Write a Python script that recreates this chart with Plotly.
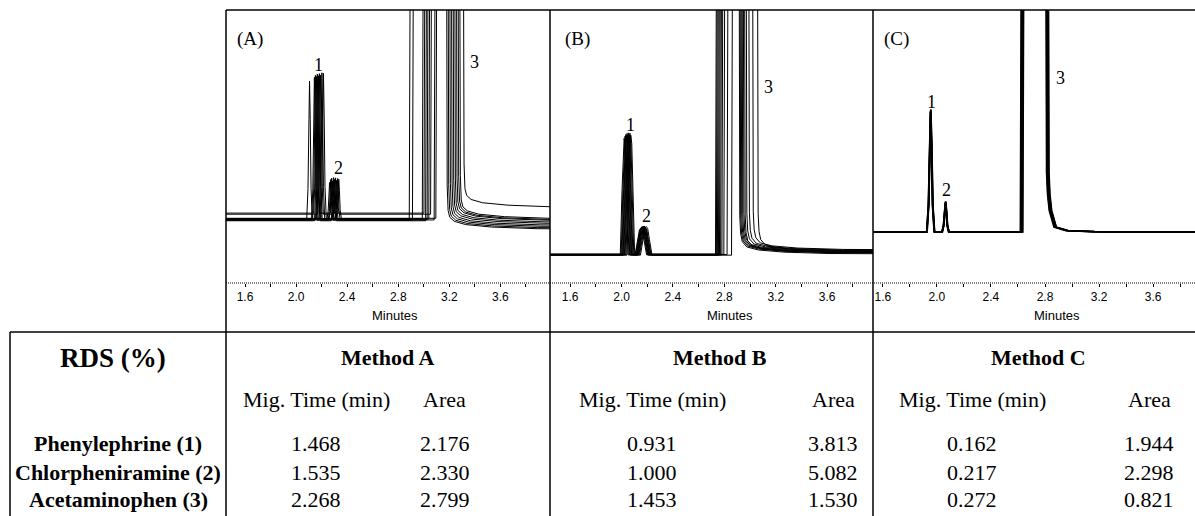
import plotly.graph_objects as go

W, H = 1195, 516

# ---------------- Chromatogram data (relative absorbance, 0-100 = axis height) ----------------
# Method A : ten overlaid runs
A_P1_TIME = [2.105, 2.143, 2.151, 2.159, 2.166, 2.174, 2.182, 2.191, 2.202, 2.214]
A_P1_SIGNAL = [74.0, 75.3, 76.1, 75.6, 76.5, 75.9, 76.7, 76.2, 77.0, 76.8]
A_P2_TIME = [2.262, 2.271, 2.279, 2.287, 2.294, 2.301, 2.309, 2.317, 2.325, 2.334]
A_P2_SIGNAL = [36.8, 37.9, 38.4, 37.4, 38.6, 37.9, 38.5, 37.6, 38.3, 38.0]
A_P3_START = [2.890, 2.915, 2.992, 3.005, 3.018, 3.030, 3.043, 3.057, 3.085, 3.098]
A_P3_END = [3.178, 3.190, 3.203, 3.216, 3.229, 3.242, 3.255, 3.268, 3.281, 3.310]
A_BASE_PRE = [23.4, 23.0, 23.6, 25.6, 22.8, 23.2, 23.5, 25.2, 23.1, 23.7]
A_BASE_POST = [19.6, 20.0, 20.5, 21.0, 21.6, 22.1, 22.7, 23.0, 23.4, 27.6]

# Method B : ten overlaid runs
B_P1_TIME = [2.020, 2.027, 2.033, 2.038, 2.043, 2.048, 2.053, 2.058, 2.065, 2.072]
B_P1_SIGNAL = [53.0, 53.8, 54.4, 54.0, 54.8, 54.2, 55.0, 54.5, 54.9, 54.1]
B_P2_TIME = [2.150, 2.155, 2.160, 2.163, 2.167, 2.171, 2.175, 2.180, 2.185, 2.192]
B_P2_SIGNAL = [20.0, 20.4, 20.7, 20.3, 20.8, 20.5, 20.9, 20.6, 20.2, 20.7]
B_P3_START = [2.735, 2.742, 2.750, 2.758, 2.766, 2.775, 2.785, 2.800, 2.825, 2.860]
B_P3_END = [2.915, 2.922, 2.930, 2.938, 2.947, 2.957, 2.970, 2.990, 3.020, 3.058]
B_BASE_PRE = [10.3, 10.5, 10.4, 10.2, 10.6, 10.4, 10.3, 10.5, 10.4, 10.2]
B_BASE_POST = [10.6, 10.9, 11.1, 11.3, 11.5, 11.0, 11.7, 11.9, 12.1, 11.4]

# Method C : eight tightly overlaid runs
C_P1_TIME = [1.950, 1.951, 1.952, 1.953, 1.954, 1.955, 1.956, 1.957]
C_P1_SIGNAL = [62.6, 63.0, 63.4, 63.2, 63.6, 62.9, 63.3, 63.5]
C_P2_TIME = [2.060, 2.061, 2.062, 2.063, 2.064, 2.065, 2.066, 2.067]
C_P2_SIGNAL = [29.2, 29.5, 29.8, 29.6, 29.9, 29.4, 29.7, 29.8]
C_P3_START = [2.620, 2.623, 2.626, 2.629, 2.632, 2.635, 2.638, 2.641]
C_P3_END = [2.805, 2.808, 2.811, 2.814, 2.817, 2.820, 2.823, 2.826]
C_BASE_PRE = [18.6, 18.7, 18.8, 18.7, 18.6, 18.8, 18.7, 18.6]
C_BASE_POST = [18.5, 18.6, 18.7, 18.6, 18.5, 18.7, 18.6, 18.5]

# Peak outline (offsets in half-widths) and fraction of peak height
PEAK_DT = [-1.0, -0.55, -0.25, 0.0, 0.25, 0.55, 1.0]
SPIKE_FRAC = [0.0, 0.22, 0.72, 1.0, 0.72, 0.22, 0.0]
BOX_FRAC = [0.0, 0.55, 0.93, 1.0, 0.93, 0.55, 0.0]
# Tail of the off-scale acetaminophen peak (min after falling edge, excess signal)
TAIL_DT = [0.0, 0.005, 0.012, 0.025, 0.06, 0.15, 0.35, 0.7]
A_TAIL = [130, 16, 7.0, 4.5, 3.0, 1.8, 0.9, 0.3]
B_TAIL = [130, 14, 7.4, 4.5, 2.6, 1.5, 0.7, 0.2]
C_TAIL = [130, 22, 14, 8.0, 1.9, 0.6, 0.2, 0.0]
OFFSCALE = 130.0

TICK_VALUES = [1.6, 1.8, 2.0, 2.2, 2.4, 2.6, 2.8, 3.0, 3.2, 3.4, 3.6, 3.8]
TICK_TEXT = ["1.6", "", "2.0", "", "2.4", "", "2.8", "", "3.2", "", "3.6", ""]

# ---------------- Table data (RSD %) ----------------
COMPOUNDS = ["Phenylephrine (1)", "Chlorpheniramine (2)", "Acetaminophen (3)"]
METHODS = ["Method A", "Method B", "Method C"]
A_MIG_RSD = [1.468, 1.535, 2.268]
A_AREA_RSD = [2.176, 2.330, 2.799]
B_MIG_RSD = [0.931, 1.000, 1.453]
B_AREA_RSD = [3.813, 5.082, 1.530]
C_MIG_RSD = [0.162, 0.217, 0.272]
C_AREA_RSD = [1.944, 2.298, 0.821]


def px(x):
    return x / W


def py(y):
    return 1 - y / H


def build_run(pre, post, p1t, p1s, hw1, f1, p2t, p2s, hw2, f2, s3, e3, tail):
    xs, ys = [1.2], [pre]
    for t, apex, hw, frac in ((p1t, p1s, hw1, f1), (p2t, p2s, hw2, f2)):
        for d, f in zip(PEAK_DT, frac):
            xs.append(t + d * hw)
            ys.append(pre + f * (apex - pre))
    xs += [s3 - 0.004, s3 + 0.004, e3]
    ys += [pre, OFFSCALE, OFFSCALE]
    for d, e in zip(TAIL_DT[1:], tail[1:]):
        xs.append(e3 + d)
        ys.append(post + e)
    xs.append(4.6)
    ys.append(post)
    return xs, ys


fig = go.Figure()

panels = [
    ("x", "y", A_BASE_PRE, A_BASE_POST, A_P1_TIME, A_P1_SIGNAL, 0.022, SPIKE_FRAC,
     A_P2_TIME, A_P2_SIGNAL, 0.020, SPIKE_FRAC, A_P3_START, A_P3_END, A_TAIL, 1.0),
    ("x2", "y2", B_BASE_PRE, B_BASE_POST, B_P1_TIME, B_P1_SIGNAL, 0.030, BOX_FRAC,
     B_P2_TIME, B_P2_SIGNAL, 0.045, BOX_FRAC, B_P3_START, B_P3_END, B_TAIL, 1.0),
    ("x3", "y3", C_BASE_PRE, C_BASE_POST, C_P1_TIME, C_P1_SIGNAL, 0.028, SPIKE_FRAC,
     C_P2_TIME, C_P2_SIGNAL, 0.025, SPIKE_FRAC, C_P3_START, C_P3_END, C_TAIL, 1.2),
]

for (xa, ya, pre, post, p1t, p1s, hw1, f1, p2t, p2s, hw2, f2, s3, e3, tail, lw) in panels:
    for i in range(len(pre)):
        xs, ys = build_run(pre[i], post[i], p1t[i], p1s[i], hw1, f1,
                           p2t[i], p2s[i], hw2, f2, s3[i], e3[i], tail)
        fig.add_trace(go.Scatter(x=xs, y=ys, mode="lines", xaxis=xa, yaxis=ya,
                                 line=dict(color="black", width=lw),
                                 showlegend=False, hoverinfo="skip"))

# ---------------- Layout ----------------
PANEL_EDGES = [226, 550, 873, 1195]
X_RANGES = [[1.451, 3.988], [1.443, 3.957], [1.527, 3.910]]
AXIS_Y, TOP_Y = 283, 10
ydom = [py(AXIS_Y), py(TOP_Y)]

xaxis_common = dict(showgrid=False, zeroline=False, showline=False,
                    ticks="outside", ticklen=3, tickwidth=1, tickcolor="black",
                    tickvals=TICK_VALUES, ticktext=TICK_TEXT,
                    tickfont=dict(family="Liberation Sans, Arial", size=12, color="black"),
                    fixedrange=True)
yaxis_common = dict(range=[0, 100], visible=False, fixedrange=True, domain=ydom)

layout_axes = {}
names = ["", "2", "3"]
for k, n in enumerate(names):
    layout_axes["xaxis" + n] = dict(xaxis_common,
                                    domain=[px(PANEL_EDGES[k]), px(PANEL_EDGES[k + 1])],
                                    range=X_RANGES[k], anchor="y" + n)
    layout_axes["yaxis" + n] = dict(yaxis_common, anchor="x" + n)

shapes = []
line_style = dict(color="black", width=1.5)
# panel top border
shapes.append(dict(type="line", xref="paper", yref="paper", x0=px(226), x1=px(1195),
                   y0=py(10), y1=py(10), line=line_style))
# vertical separators (panels and table columns)
for xv in [226, 550, 873]:
    shapes.append(dict(type="line", xref="paper", yref="paper", x0=px(xv), x1=px(xv),
                       y0=py(10), y1=py(516), line=line_style))
# table top and left border
shapes.append(dict(type="line", xref="paper", yref="paper", x0=px(10), x1=px(1195),
                   y0=py(332), y1=py(332), line=line_style))
shapes.append(dict(type="line", xref="paper", yref="paper", x0=px(10), x1=px(10),
                   y0=py(332), y1=py(516), line=line_style))
# dotted time axis lines
shapes.append(dict(type="line", xref="paper", yref="paper", x0=px(226), x1=px(1195),
                   y0=py(AXIS_Y), y1=py(AXIS_Y),
                   line=dict(color="black", width=1, dash="1px,1px")))

annotations = []
serif = "Liberation Serif, Times New Roman, serif"
sans = "Liberation Sans, Arial, sans-serif"


def txt(x, y, s, size, family=serif, bold=False):
    annotations.append(dict(xref="paper", yref="paper", x=px(x), y=py(y),
                            text=("<b>%s</b>" % s) if bold else s, showarrow=False,
                            xanchor="center", yanchor="middle",
                            font=dict(family=family, size=size, color="black")))


# panel letters
for x, s in [(250, "(A)"), (577, "(B)"), (896, "(C)")]:
    txt(x, 39, s, 19)
# "Minutes" axis titles
for x in [395, 730, 1057]:
    txt(x, 315, "Minutes", 13, family=sans)
# peak labels
for (x, y, s) in [(318, 65, "1"), (338, 168, "2"), (474, 62, "3"),
                  (630, 125, "1"), (646, 216, "2"), (768, 87, "3"),
                  (932, 102, "1"), (946, 190, "2"), (1060, 78, "3")]:
    txt(x, y, s, 18)

# table
HEAD_Y, SUB_Y, ROW_Y = 357, 399, [443, 472, 499]
txt(113, 358, "RDS (%)", 27, bold=True)
method_x = [388, 720, 1038]
mig_x = [316, 652, 972]
area_x = [445, 833, 1149]
for m, mx in zip(METHODS, method_x):
    txt(mx, HEAD_Y, m, 22, bold=True)
for x in mig_x:
    txt(x, SUB_Y, "Mig. Time (min)", 22)
for x in area_x:
    txt(x, SUB_Y, "Area", 22)
for r, name in enumerate(COMPOUNDS):
    txt(118, ROW_Y[r], name, 22, bold=True)
for k, (mig, area) in enumerate([(A_MIG_RSD, A_AREA_RSD), (B_MIG_RSD, B_AREA_RSD),
                                 (C_MIG_RSD, C_AREA_RSD)]):
    for r in range(3):
        txt(mig_x[k], ROW_Y[r], "%.3f" % mig[r], 22)
        txt(area_x[k], ROW_Y[r], "%.3f" % area[r], 22)

fig.update_layout(width=W, height=H, autosize=False,
                  margin=dict(l=0, r=0, t=0, b=0),
                  paper_bgcolor="white", plot_bgcolor="rgba(0,0,0,0)",
                  shapes=shapes, annotations=annotations, **layout_axes)

fig.write_html("out.html",
               config={"displayModeBar": False, "staticPlot": True},
               post_script="document.body.style.margin='0px';"
                           "document.body.style.overflow='hidden';")
